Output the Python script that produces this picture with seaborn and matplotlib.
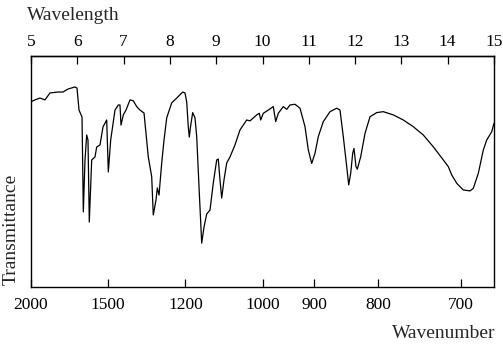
import matplotlib
matplotlib.use("Agg")
import matplotlib.pyplot as plt
import seaborn as sns
import pandas as pd

# Spectrum (wavelength in micrometres, transmittance in %)
wavelength = [5.000, 5.086, 5.194, 5.302, 5.410, 5.583, 5.691, 5.799, 5.950, 5.994,
              6.037, 6.102, 6.130, 6.166, 6.203, 6.231, 6.259, 6.311, 6.382, 6.419,
              6.490, 6.555, 6.635, 6.670, 6.721, 6.814, 6.886, 6.922, 6.944, 6.994,
              7.052, 7.138, 7.210, 7.283, 7.354, 7.441, 7.533, 7.607, 7.641, 7.700,
              7.728, 7.765, 7.823, 7.873, 7.931, 8.039, 8.147, 8.276, 8.326, 8.363,
              8.397, 8.419, 8.445, 8.492, 8.542, 8.579, 8.635, 8.687, 8.737, 8.795,
              8.866, 8.937, 9.011, 9.045, 9.082, 9.119, 9.168, 9.227, 9.298, 9.406,
              9.514, 9.659, 9.730, 9.875, 9.931, 9.961, 10.017, 10.125, 10.233, 10.285,
              10.341, 10.449, 10.523, 10.594, 10.702, 10.810, 10.918, 10.989, 11.063, 11.134,
              11.205, 11.313, 11.458, 11.603, 11.674, 11.745, 11.819, 11.862, 11.905, 11.948,
              11.976, 12.019, 12.048, 12.121, 12.214, 12.322, 12.467, 12.609, 12.825, 13.041,
              13.257, 13.473, 13.689, 13.905, 14.013, 14.087, 14.195, 14.337, 14.482, 14.553,
              14.661, 14.769, 14.842, 14.950, 15.000]
transmittance = [80.2, 81.0, 81.8, 81.0, 84.0, 84.4, 84.4, 85.7, 86.6, 86.1,
                 76.6, 73.6, 32.5, 55.0, 65.8, 63.6, 28.1, 55.0, 56.3, 60.6,
                 61.5, 69.3, 72.3, 49.8, 63.6, 76.6, 78.8, 78.8, 70.1, 74.5,
                 76.6, 81.0, 80.6, 78.1, 76.6, 75.3, 56.4, 47.7, 31.2, 37.7,
                 42.9, 39.8, 53.7, 63.6, 73.2, 79.7, 81.8, 84.4, 84.0, 80.1,
                 69.3, 64.9, 69.3, 75.5, 73.2, 65.1, 40.7, 19.0, 26.0, 31.6,
                 33.3, 45.0, 55.0, 55.4, 46.3, 38.5, 46.3, 53.7, 56.3, 61.5,
                 68.0, 72.3, 71.9, 74.5, 75.2, 72.3, 75.2, 76.6, 78.1, 71.6,
                 75.2, 78.1, 76.9, 78.8, 79.1, 77.4, 69.4, 59.3, 53.5, 57.9,
                 65.1, 71.6, 75.9, 77.4, 76.6, 65.1, 52.1, 44.2, 49.2, 57.9,
                 60.0, 52.1, 51.0, 56.4, 66.5, 73.7, 75.5, 75.9, 74.5, 72.3,
                 69.4, 65.8, 60.7, 55.0, 52.1, 48.5, 44.9, 42.0, 41.6, 42.7,
                 49.2, 59.3, 63.6, 67.2, 70.9]

wavelength_ticks = [5, 6, 7, 8, 9, 10, 11, 12, 13, 14, 15]
wavenumber_ticks = [2000, 1500, 1200, 1000, 900, 800, 700]

sns.set_style("white")
plt.rcParams["font.family"] = ["Liberation Serif", "DejaVu Serif"]

df = pd.DataFrame({"wavelength": wavelength, "T": transmittance})

fig = plt.figure(figsize=(5.03, 3.45), dpi=100)
ax = fig.add_axes([31 / 503, 1 - 287 / 345, (494 - 31) / 503, (287 - 56) / 345])
sns.lineplot(data=df, x="wavelength", y="T", ax=ax, color="black",
             linewidth=0.9, estimator=None, sort=False)

ax.set_xlim(5, 15)
ax.set_ylim(0, 100)
ax.set_xlabel("")
ax.set_ylabel("")
ax.set_yticks([])

# bottom axis: wavenumber
ax.set_xticks([10000 / w for w in wavenumber_ticks])
ax.set_xticklabels([str(w) for w in wavenumber_ticks])
ax.tick_params(axis="x", direction="in", length=6, width=0.9, pad=7,
               labelsize=12.5, bottom=True, top=False, colors="black")

# top axis: wavelength
sec = ax.secondary_xaxis("top")
sec.set_xticks(wavelength_ticks)
sec.set_xticklabels([str(w) for w in wavelength_ticks])
sec.tick_params(axis="x", direction="in", length=6, width=0.9, pad=4.5,
                labelsize=12.5, colors="black")
sec.spines["top"].set_linewidth(1.0)

for s in ax.spines.values():
    s.set_color("black")
    s.set_linewidth(1.0)

fig.text(27 / 503, 1 - 20 / 345, "Wavelength", ha="left", va="baseline", fontsize=14)
fig.text(495 / 503, 1 - 338 / 345, "Wavenumber", ha="right", va="baseline", fontsize=14)
fig.text(11 / 503, 1 - 285 / 345, "Transmittance", ha="center", va="bottom",
         rotation=90, fontsize=14)

fig.savefig("out.png", dpi=100)
